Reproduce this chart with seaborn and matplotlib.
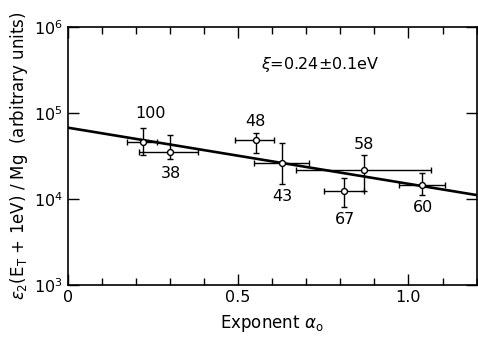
import numpy as np
import pandas as pd
import matplotlib
matplotlib.use("Agg")
import matplotlib.pyplot as plt
import seaborn as sns
from matplotlib.ticker import FixedLocator, MultipleLocator, NullLocator

# ── Datos ───────────────────────────────────────────────────────────────────
labels = ["100", "38", "48", "43", "67", "58", "60"]
alpha0 = [0.222, 0.300, 0.552, 0.630, 0.810, 0.869, 1.039]
alpha0_lo = [0.175, 0.208, 0.491, 0.547, 0.751, 0.670, 0.971]
alpha0_hi = [0.263, 0.383, 0.605, 0.708, 0.870, 1.067, 1.107]
eps = [45600, 35500, 48500, 26400, 12400, 21700, 14600]
eps_lo = [32500, 29000, 34000, 14900, 8000, 12500, 11100]
eps_hi = [66400, 55500, 58100, 44400, 17400, 32500, 19900]

# recta de ajuste (extremos del eje)
fit_x = [0.0, 1.2]
fit_y = [67400, 11100]

# desplazamiento de etiquetas (pixeles)
label_dx = [7, 1, 0, 0, 1, 0, 1]
label_dy = [29, -22, 18, -34, -29, 26, -23]

sns.set_theme(style="ticks")
plt.rcParams["font.family"] = ["DejaVu Sans"]
plt.rcParams["mathtext.fontset"] = "dejavusans"
for k in ["text.color", "axes.labelcolor", "xtick.color", "ytick.color", "axes.edgecolor"]:
    plt.rcParams[k] = "black"

df = pd.DataFrame({"a0": alpha0, "eps": eps, "label": labels})
df_fit = pd.DataFrame({"a0": fit_x, "eps": fit_y})

fig = plt.figure(figsize=(4.78, 3.45), dpi=100)
ax = fig.add_axes([0.142, 0.174, 0.855, 0.748])

sns.lineplot(data=df_fit, x="a0", y="eps", color="black", lw=1.9, ax=ax)

xerr = [np.array(alpha0) - np.array(alpha0_lo), np.array(alpha0_hi) - np.array(alpha0)]
yerr = [np.array(eps) - np.array(eps_lo), np.array(eps_hi) - np.array(eps)]
ax.errorbar(alpha0, eps, xerr=xerr, yerr=yerr, fmt="none", ecolor="black",
            elinewidth=1.0, capsize=2.5, capthick=1.0, zorder=3)
sns.scatterplot(data=df, x="a0", y="eps", marker="o", s=18, facecolor="white",
                edgecolor="black", linewidth=1.0, zorder=4, ax=ax)

for lab, x, y, dx, dy in zip(labels, alpha0, eps, label_dx, label_dy):
    ax.annotate(lab, (x, y), xytext=(dx, dy), textcoords="offset pixels",
                ha="center", va="center", fontsize=11.5)

ax.text(0.617, 0.853, r"$\xi$=0.24$\pm$0.1eV", transform=ax.transAxes,
        ha="center", va="center", fontsize=11.5)

ax.set_yscale("log")
ax.set_xlim(0, 1.2)
ax.set_ylim(1e3, 1e6)
ax.xaxis.set_major_locator(FixedLocator([0, 0.5, 1.0]))
ax.xaxis.set_minor_locator(MultipleLocator(0.1))
ax.set_xticklabels(["0", "0.5", "1.0"])
ax.yaxis.set_major_locator(FixedLocator([1e3, 1e4, 1e5, 1e6]))
ax.yaxis.set_minor_locator(NullLocator())
ax.tick_params(which="both", direction="in", top=True, right=True, labelsize=11.5)
ax.tick_params(which="major", length=8, width=1.0)
ax.tick_params(which="minor", length=5, width=1.0)
for s in ax.spines.values():
    s.set_linewidth(1.2)

ax.set_xlabel(r"Exponent $\alpha_\mathrm{o}$", fontsize=12, labelpad=6)
ax.set_ylabel(r"$\epsilon_2$(E$_\mathrm{T}$ + 1eV) / Mg  (arbitrary units)",
              fontsize=12, labelpad=3)

fig.savefig("out.png", dpi=100)
